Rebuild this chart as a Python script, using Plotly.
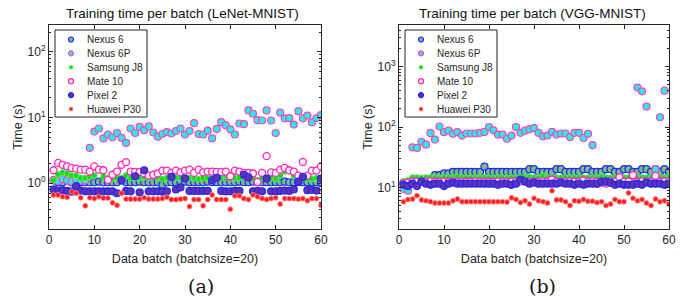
import plotly.graph_objects as go

batches = list(range(1, 61))
devices = ["Nexus 6", "Nexus 6P", "Samsung J8", "Mate 10", "Pixel 2", "Huawei P30"]

# ---- LeNet-MNIST (a) ----
lenet_nexus6 = [1.1,1.03,1.03,1.1,1.02,0.9,1.03,1.03,1.03,1.03,
                1.05,1.03,1.03,1.03,1.03,1.1,1.03,1.03,1.03,1.05,
                1.03,1.03,1.03,1.03,0.94,1.03,1.03,1.03,1.03,1.05,
                1.03,1.03,1.03,1.03,1.05,1.03,1.03,1.03,1.03,1.03,
                1.03,1.05,1.03,1.03,1.05,1.03,1.03,1.03,1.03,1.03,
                1.03,1.05,1.03,1.03,1.03,1.03,1.03,1.03,1.03,1.03]
lenet_nexus6p = [1.12,1.08,1.15,1.10,1.05,1.10,1.08,1.10,3.45,6.1,
                 6.8,4.8,5.5,5.0,5.8,4.9,4.1,6.8,5.8,7.2,
                 6.4,7.3,5.9,5.1,5.6,6.0,5.7,6.2,6.8,5.5,
                 6.2,8.2,5.6,5.5,6.3,4.8,6.7,8.5,7.6,6.6,
                 5.5,8.1,7.9,12.8,11.4,9.1,9.0,12.8,9.0,5.8,
                 11.9,9.7,9.8,7.8,12.5,9.7,10.7,8.4,9.8,10.9]
lenet_samsung = [1.1,1.35,1.45,1.4,1.3,1.3,1.2,1.2,1.25,1.3,
                 1.55,1.25,1.2,1.15,1.2,1.2,1.3,1.2,1.2,1.2,
                 1.25,1.2,1.3,1.2,1.15,1.2,1.3,1.2,1.2,1.15,
                 1.2,1.2,1.15,1.2,1.2,1.2,1.15,1.2,1.3,1.15,
                 1.2,1.2,1.3,1.25,1.2,1.1,1.2,1.2,1.2,1.15,
                 1.3,1.5,1.55,1.3,1.2,1.2,1.15,1.15,1.2,1.15]
lenet_mate10 = [1.57,2.03,1.9,1.8,1.7,1.66,1.6,1.6,1.5,1.8,
                1.6,1.57,1.12,1.34,1.5,1.9,2.08,1.5,1.48,1.48,
                1.4,1.3,1.34,1.4,1.55,1.55,1.43,1.55,1.46,1.55,
                1.6,1.43,1.6,1.46,1.5,1.5,1.48,1.48,1.5,1.27,
                1.55,1.5,1.43,1.43,1.4,1.04,1.43,2.57,1.46,1.43,
                1.6,1.7,1.57,1.5,1.3,2.1,1.3,1.55,1.55,1.8]
lenet_pixel2 = [0.80,0.77,0.78,0.76,0.74,0.90,0.77,0.75,0.75,0.75,
                0.75,0.75,0.75,0.75,0.70,1.10,0.76,0.75,1.27,0.72,
                1.57,0.75,0.75,0.75,0.74,0.75,1.24,0.80,0.86,1.17,
                0.76,0.76,0.76,0.76,0.76,1.10,1.20,0.76,0.75,0.75,
                0.76,0.76,1.34,1.22,0.75,0.76,0.75,1.17,0.75,0.75,
                0.76,0.77,0.76,0.80,1.05,1.24,0.78,0.79,0.77,1.17]
lenet_p30 = [0.66,0.66,0.62,0.61,0.74,0.70,0.60,0.45,0.60,0.58,
             0.62,0.59,0.59,0.50,0.46,0.70,0.57,0.57,0.57,0.57,
             0.60,0.57,0.57,0.57,0.58,0.61,0.56,0.56,0.57,0.58,
             0.44,0.56,0.56,0.45,0.56,0.66,0.56,0.56,0.56,0.40,
             0.64,0.64,0.58,0.56,0.66,0.62,0.58,0.56,0.58,0.60,
             0.48,0.58,0.58,0.58,0.57,0.58,0.54,0.58,0.58,0.46]

# ---- VGG-MNIST (b) ----
vgg_nexus6 = [12,11.5,12,12,12.5,13,13.5,16,16,17,
              17,18,18,18,18,18,18,18,22,18,
              18,18,18,18,18,18,18,18,20,20,
              18,18,18,18,20,20,18,18,18,18,
              20,20,18,18,18,20,20,18,18,20,
              20,18,18,20,20,18,20,18,20,18]
vgg_nexus6p = [9.4,8.8,46,45,57,51,79,62,102,82,
               87,77,82,72,78,78,78,80,83,100,
               88,75,75,64,72,100,80,87,92,96,
               80,70,72,83,75,78,78,68,80,80,
               66,77,50,11.5,11.8,11.5,11.8,11.5,11.8,11.5,
               11.8,11.5,450,390,218,12,20,145,400,12]
vgg_samsung = [12.5,13,14.5,14.5,14.3,14.5,14.6,14.5,14.4,14.5,
               14.5,14.6,15,14.5,14.4,14.5,14.6,14.5,14.5,14.4,
               14.5,14.6,14.5,14.4,14.5,14.5,14.6,14.5,15,14.5,
               14.4,15.5,14.5,14.6,14.5,14.4,14.5,14.6,14.5,14.5,
               14.4,14.5,14.6,14.5,15,14.5,14.4,14.5,14.6,14.5,
               14.5,14.4,14.5,14.6,14.5,14.5,14.4,14.6,14.5,14.5]
vgg_mate10 = [11.5,12,12.5,12.5,12.3,12.5,12.6,12.5,12.4,12.5,
              12.5,12.6,12.5,12.4,12.5,12.5,12.6,12.5,12.4,12.5,
              12.5,12.6,12.5,12.4,12.5,12.5,12.6,12.5,12.4,12.5,
              12.5,12.6,12.5,13.5,12.5,12.4,12.5,12.6,12.5,12.5,
              13,12.5,12.6,12.5,12.4,12.5,12.6,12.5,14.6,12.5,
              12.4,16,12.5,12.6,12.5,12.4,15.5,12.5,12.6,12.5]
vgg_pixel2 = [11,10.5,11.5,10.5,12.5,11.5,11,11.5,11.5,10.5,
              11.5,12,11.5,11.5,11.5,11.5,11.5,11.5,11.5,11.5,
              11.5,11,11.5,11.5,11,11.5,13.5,12.5,11.5,12,
              11.5,11.5,11.5,11.5,11.5,12,11.5,11.5,11,11.5,
              11,11.5,11.5,11.5,12.5,12.5,12,11,11.5,11,
              11,11,11.5,11,12,11.5,11.5,11.5,11,11.5]
vgg_p30 = [5.8,6.3,6.4,7.3,6.2,6.0,5.8,5.5,5.5,5.5,
           5.5,6.0,6.4,5.8,5.8,5.8,5.8,5.8,5.8,5.8,
           5.8,5.8,5.8,5.7,6.7,6.3,5.6,6.0,5.3,6.6,
           6.0,5.8,5.5,8.8,6.2,6.2,5.8,5.0,6.0,5.9,
           6.3,5.9,5.9,5.6,5.8,5.0,5.3,6.3,5.8,5.8,
           8.1,6.6,6.0,6.3,5.5,5.0,6.4,5.8,6.0,5.3]

lenet = [lenet_nexus6, lenet_nexus6p, lenet_samsung, lenet_mate10, lenet_pixel2, lenet_p30]
vgg = [vgg_nexus6, vgg_nexus6p, vgg_samsung, vgg_mate10, vgg_pixel2, vgg_p30]

styles = [
    dict(fill="rgb(122,188,130)", size=7, edge="rgb(30,40,255)", w=1.2),
    dict(fill="rgb(40,235,240)", size=7, edge="rgb(255,70,170)", w=1.2),
    dict(fill="rgb(20,220,20)", size=6, edge="rgb(120,235,120)", w=0.8),
    dict(fill="rgb(255,240,250)", size=7, edge="rgb(255,40,180)", w=1.3),
    dict(fill="rgb(100,50,170)", size=7, edge="rgb(30,40,255)", w=1.2),
    dict(fill="rgb(255,30,30)", size=5, edge="rgb(255,140,140)", w=0.8),
]

FONT = "Liberation Sans, Arial, sans-serif"
AX = "#262626"
W, H = 680, 299
ML, MR, MT, MB = 49, 11, 25, 70
PW, PH = W - ML - MR, H - MT - MB

def px_x(p):
    return (p - ML) / PW

fig = go.Figure()
for name, ys, st in zip(devices, lenet, styles):
    fig.add_trace(go.Scatter(x=batches, y=ys, mode="markers", name=name, showlegend=False,
                             marker=dict(color=st["fill"], size=st["size"],
                                         line=dict(color=st["edge"], width=st["w"])),
                             xaxis="x", yaxis="y"))
for name, ys, st in zip(devices, vgg, styles):
    fig.add_trace(go.Scatter(x=batches, y=ys, mode="markers", name=name, showlegend=False,
                             marker=dict(color=st["fill"], size=st["size"],
                                         line=dict(color=st["edge"], width=st["w"])),
                             xaxis="x2", yaxis="y2"))

# ---- hand-built legends on an overlay axis measured in page pixels ----
legend_boxes = [(55, 147, 30, 117), (405, 497, 30, 117)]
annotations = []
for (x0, x1, y0, y1) in legend_boxes:
    fig.add_trace(go.Scatter(x=[x0, x1, x1, x0, x0], y=[y0, y0, y1, y1, y0], mode="lines",
                             fill="toself", fillcolor="white", line=dict(color="#222", width=1),
                             showlegend=False, hoverinfo="skip", xaxis="x3", yaxis="y3"))
    mx = x0 + 16
    for i, (name, st) in enumerate(zip(devices, styles)):
        yy = y0 + 9.5 + i * 13.9
        fig.add_trace(go.Scatter(x=[mx], y=[yy], mode="markers", showlegend=False, hoverinfo="skip",
                                 marker=dict(color=st["fill"], size=max(st["size"] - 2, 4),
                                             line=dict(color=st["edge"], width=st["w"])),
                                 xaxis="x3", yaxis="y3"))
        annotations.append(dict(text=name, x=x0 + 30, y=yy, xref="x3", yref="y3",
                                xanchor="left", yanchor="middle", showarrow=False,
                                font=dict(family=FONT, size=10, color=AX)))

def minor_vals(lo, hi):
    out = []
    for e in range(lo, hi + 1):
        for m in range(2, 10):
            out.append(m * 10 ** e)
    return out

xcommon = dict(range=[0, 60], tickvals=[0, 10, 20, 30, 40, 50, 60], ticks="inside", ticklen=4,
               tickcolor=AX, showline=True, linecolor=AX, linewidth=1, mirror="ticks",
               showgrid=False, zeroline=False, automargin=False,
               tickfont=dict(family=FONT, size=12, color=AX),
               title=dict(text="Data batch (batchsize=20)", font=dict(family=FONT, size=12.5, color=AX),
                          standoff=7))
ycommon = dict(type="log", ticks="inside", ticklen=4, tickcolor=AX, showline=True, linecolor=AX,
               linewidth=1, mirror="allticks", showgrid=False, zeroline=False, automargin=False,
               tickfont=dict(family=FONT, size=12, color=AX),
               title=dict(text="Time (s)", font=dict(family=FONT, size=12.5, color=AX), standoff=2))

annotations += [
    dict(text="Training time per batch (LeNet-MNIST)", xref="paper", yref="paper",
         x=px_x(182), y=1.0, yshift=2, xanchor="center", yanchor="bottom", showarrow=False,
         font=dict(family=FONT, size=13.5, color="#111")),
    dict(text="Training time per batch (VGG-MNIST)", xref="paper", yref="paper",
         x=px_x(532), y=1.0, yshift=2, xanchor="center", yanchor="bottom", showarrow=False,
         font=dict(family=FONT, size=13.5, color="#111")),
    dict(text="(a)", xref="paper", yref="paper", x=px_x(201), y=0, yshift=-44,
         xanchor="center", yanchor="top", showarrow=False,
         font=dict(family="DejaVu Serif, serif", size=19, color="#111")),
    dict(text="(b)", xref="paper", yref="paper", x=px_x(542), y=0, yshift=-44,
         xanchor="center", yanchor="top", showarrow=False,
         font=dict(family="DejaVu Serif, serif", size=19, color="#111")),
]

fig.update_layout(
    width=W, height=H,
    margin=dict(l=ML, r=MR, t=MT, b=MB),
    paper_bgcolor="white", plot_bgcolor="rgba(0,0,0,0)",
    showlegend=False,
    xaxis=dict(domain=[0, px_x(321)], anchor="y", **xcommon),
    xaxis2=dict(domain=[px_x(399), px_x(669)], anchor="y2", **xcommon),
    yaxis=dict(domain=[0, 1], anchor="x", range=[-0.70, 2.41], tickvals=[1, 10, 100],
               ticktext=["10<sup>0</sup>", "10<sup>1</sup>", "10<sup>2</sup>"],
               minor=dict(tickvals=minor_vals(-1, 2), ticks="inside", ticklen=2, tickcolor=AX),
               **ycommon),
    yaxis2=dict(domain=[0, 1], anchor="x2", range=[0.31, 3.69], tickvals=[10, 100, 1000],
                ticktext=["10<sup>1</sup>", "10<sup>2</sup>", "10<sup>3</sup>"],
                minor=dict(tickvals=minor_vals(0, 3), ticks="inside", ticklen=2, tickcolor=AX),
                **ycommon),
    xaxis3=dict(domain=[0, 1], anchor="y3", range=[ML, W - MR], visible=False, fixedrange=True),
    yaxis3=dict(domain=[0, 1], anchor="x3", range=[H - MB, MT], visible=False, fixedrange=True),
    annotations=annotations,
)

fig.write_html("out.html", config={"displayModeBar": False, "staticPlot": True},
               post_script="document.body.style.margin='0px';")
